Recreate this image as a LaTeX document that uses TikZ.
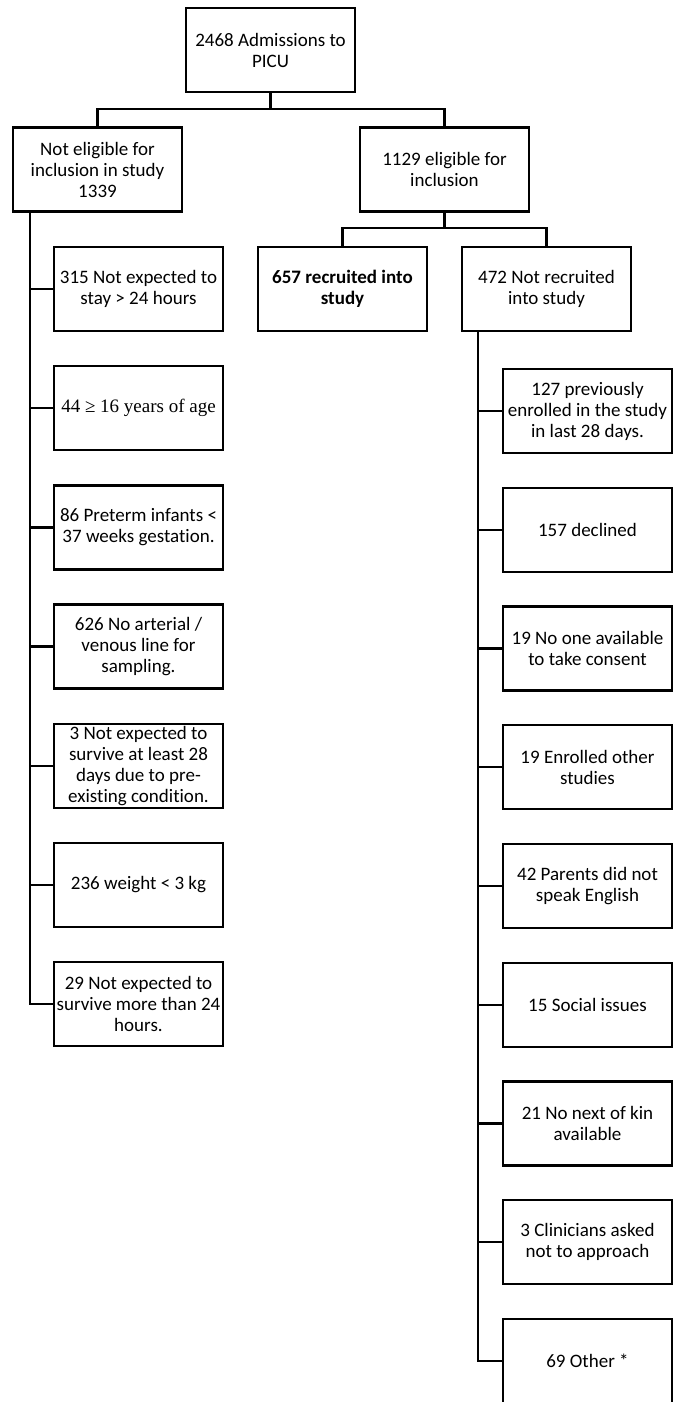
\documentclass[tikz,border=0pt]{standalone}
\usepackage{fontspec}
\setmainfont{Carlito}[Ligatures=NoCommon]
\newfontfamily\timesfont{Liberation Serif}
\tikzset{
  flowbox/.style={draw, line width=2.4pt, minimum width=169pt, minimum height=84pt,
    inner sep=0pt, align=center, font=\fontsize{19}{21}\selectfont},
  link/.style={line width=2.4pt}
}
\begin{document}
\begin{tikzpicture}[x=1pt,y=-1pt]
\useasboundingbox (0,0) rectangle (673,1402);
\clip (0,0) rectangle (673,1402);

\node[flowbox] (adm) at (270.5,50) {2468 Admissions to\\PICU};
\node[flowbox] (notelig) at (97.5,169.5) {Not eligible for\\inclusion in study\\1339};
\node[flowbox] (elig) at (444.5,169.5) {1129 eligible for\\inclusion};
\node[flowbox, font=\fontsize{19}{21}\selectfont\bfseries] (recr) at (342.5,289) {657 recruited into\\study};
\node[flowbox] (notrecr) at (546.5,289) {472 Not recruited\\into study};

\coordinate (split1) at (270.5,109);
\coordinate (split2) at (444.5,228);
\draw[link] (adm) -- (split1) -| (notelig);
\draw[link] (split1) -| (elig);
\draw[link] (elig) -- (split2) -| (recr);
\draw[link] (split2) -| (notrecr);

% not eligible
\foreach \txt [count=\i] in {
  {315 Not expected to\\stay > 24 hours},
  {\timesfont 44 ≥ 16 years of age},
  {86 Preterm infants <\\37 weeks gestation.},
  {626 No arterial /\\venous line for\\sampling.},
  {3 Not expected to\\survive at least 28\\days due to pre-\\existing condition.},
  {236 weight < 3 kg},
  {29 Not expected to\\survive more than 24\\hours.}}
  \node[flowbox] (ex\i) at (138.5,{289+119.2*(\i-1)}) {\txt};

\coordinate (ltrunk) at (30,212);
\draw[link] (ltrunk) |- (ex7.west);
\foreach \i in {1,...,6} \draw[link] (ltrunk |- ex\i.west) -- (ex\i.west);

% not recruited
\foreach \txt [count=\i] in {
  {127 previously\\enrolled in the study\\in last 28 days.},
  {157 declined},
  {19 No one available\\to take consent},
  {19 Enrolled other\\studies},
  {42 Parents did not\\speak English},
  {15 Social issues},
  {21 No next of kin\\available},
  {3 Clinicians asked\\not to approach},
  {69 Other *}}
  \node[flowbox] (nr\i) at (587.5,{411+118.75*(\i-1)}) {\txt};

\coordinate (rtrunk) at (478,331);
\draw[link] (rtrunk) |- (nr9.west);
\foreach \i in {1,...,8} \draw[link] (rtrunk |- nr\i.west) -- (nr\i.west);

\end{tikzpicture}
\end{document}
